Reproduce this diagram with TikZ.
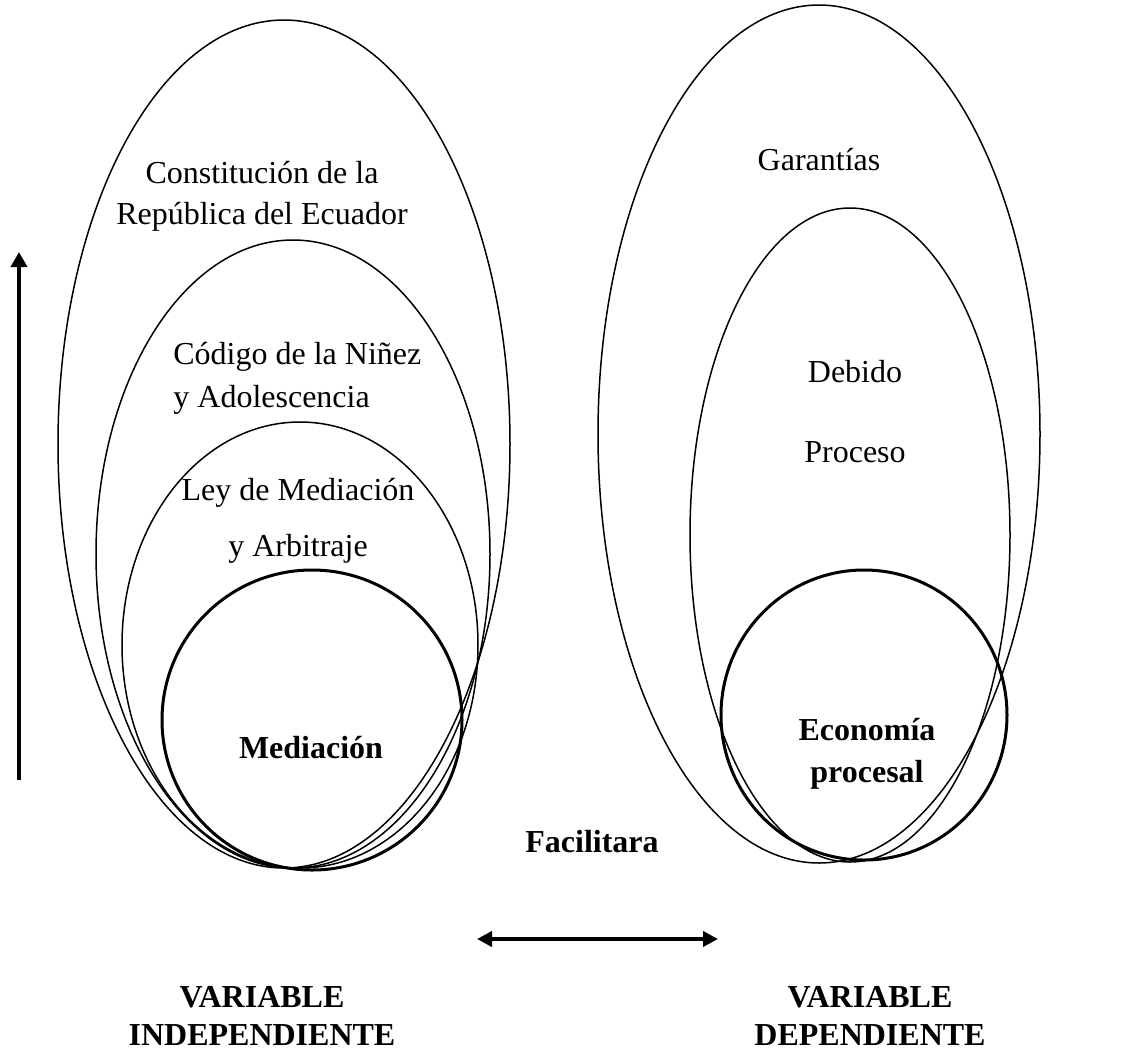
\documentclass[tikz,border=0pt]{standalone}
\usepackage{fontspec}
\setmainfont{Liberation Serif}
\usetikzlibrary{arrows.meta}

\begin{document}
\begin{tikzpicture}[x=0.5pt,y=-0.5pt,
	font=\fontsize{16}{19}\selectfont,
	every node/.style={inner sep=0pt},
	boldtext/.style={font=\fontsize{16}{19}\selectfont\bfseries},
	thinring/.style={line width=0.75pt},
	thickring/.style={line width=1.5pt},
	bigarrow/.style={line width=2.4pt,-{Triangle[length=7.5pt,width=8pt]}}]
	\useasboundingbox (0,0) rectangle (1136,1051);
	% variable independiente
	\draw[thinring] (284,444) ellipse [x radius=226,y radius=424];
	\draw[thinring] (293,554) ellipse [x radius=197,y radius=314];
	\draw[thinring] (300,645) ellipse [x radius=178,y radius=223];
	\draw[thickring] (312,720) ellipse [x radius=150,y radius=150];
	\node (constitucion) at (262,173) {Constitución de la};
	\node (republica) at (262,217) {República del Ecuador};
	\node[anchor=west] (codigo) at (173,357) {Código de la Niñez};
	\node[anchor=west] (adolescencia) at (173,400) {y Adolescencia};
	\node (ley) at (298,493) {Ley de Mediación};
	\node (arbitraje) at (298,549) {y Arbitraje};
	\node[boldtext] (mediacion) at (311,748) {Mediación};
	% variable dependiente
	\draw[thinring] (819,434) ellipse [x radius=221,y radius=429];
	\draw[thinring] (850,535) ellipse [x radius=160,y radius=327];
	\draw[thickring] (864,715) ellipse [x radius=143,y radius=145];
	\node (garantias) at (819,160) {Garantías};
	\node (debido) at (855,372) {Debido};
	\node (proceso) at (855,452) {Proceso};
	\node[boldtext] (economia) at (867,730) {Economía};
	\node[boldtext] (procesal) at (867,775) {procesal};
	% flechas
	\coordinate (vbottom) at (19,780);
	\coordinate (vtop) at (19,252);
	\draw[bigarrow] (vbottom) -- (vtop);
	\node[boldtext] (facilitara) at (592,842) {Facilitara};
	\coordinate (hleft) at (477,939);
	\coordinate (hright) at (718,939);
	\draw[line width=2pt,{Triangle[length=7.5pt,width=7.5pt]}-{Triangle[length=7.5pt,width=7.5pt]}] (hleft) -- (hright);
	\node[boldtext] (vari) at (262,997) {VARIABLE};
	\node[boldtext] (indep) at (262,1035) {INDEPENDIENTE};
	\node[boldtext] (vard) at (870,997) {VARIABLE};
	\node[boldtext] (dep) at (870,1035) {DEPENDIENTE};
\end{tikzpicture}
\end{document}
